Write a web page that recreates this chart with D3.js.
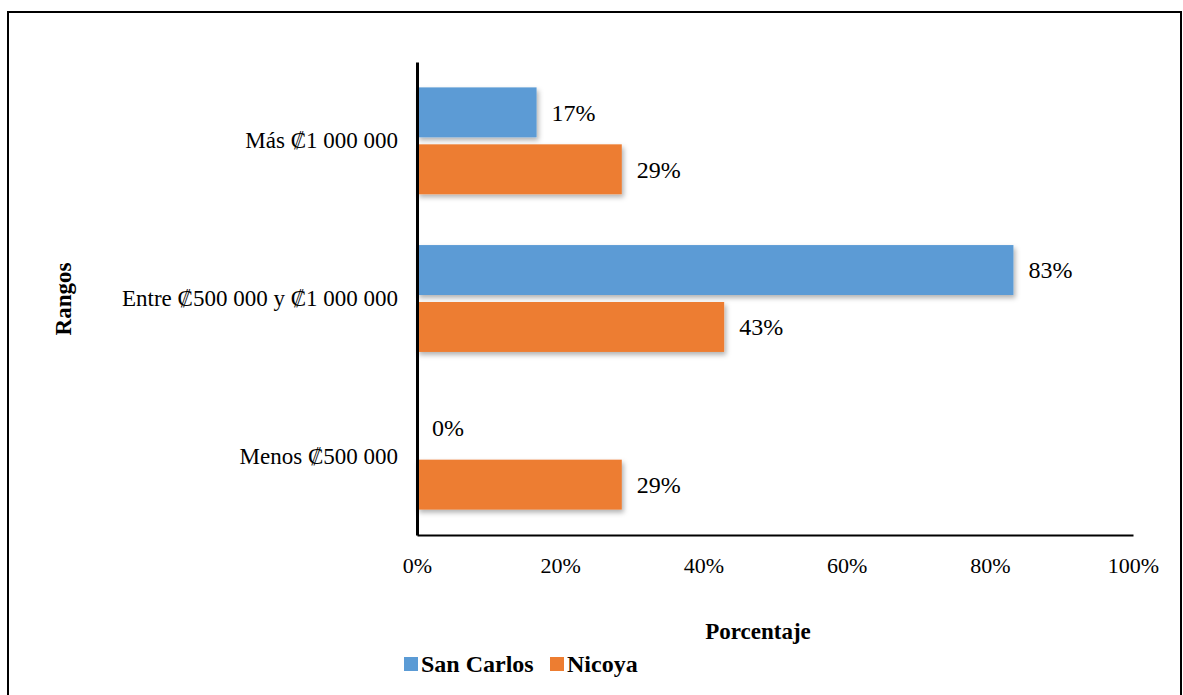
<!DOCTYPE html>
<html>
<head>
<meta charset="utf-8">
<script src="https://cdn.jsdelivr.net/npm/d3@7"></script>
<style>
  html, body { margin: 0; padding: 0; background: #fff; }
  svg { display: block; font-family: "Liberation Serif", "Times New Roman", serif; }
</style>
</head>
<body>
<div id="chart"></div>
<script>
// Chart data (percentages; labels are rounded)
const categories = ['Más ₡1 000 000', 'Entre ₡500 000 y ₡1 000 000', 'Menos ₡500 000'];
const seriesNames = ['San Carlos', 'Nicoya'];
const sanCarlos = [16.7, 83.3, 0];
const nicoya = [28.6, 42.9, 28.6];
const xTicks = [0, 20, 40, 60, 80, 100];
const colors = ['#5B9BD5', '#ED7D31'];

const W = 1183, H = 695;
const plot = { left: 417, right: 1133, top: 62, bottom: 535 };
const serif = '"Liberation Serif", "Times New Roman", serif';

const svg = d3.select('#chart')
    .append('svg')
    .attr('width', W)
    .attr('height', H);

// soft drop shadow for the bars
const defs = svg.append('defs');
defs.append('filter')
    .attr('id', 'shadow')
    .attr('x', '-5%').attr('y', '-20%')
    .attr('width', '115%').attr('height', '150%')
    .append('feDropShadow')
    .attr('dx', 2).attr('dy', 3)
    .attr('stdDeviation', 2.5)
    .attr('flood-color', '#000')
    .attr('flood-opacity', 0.3);

// outer frame
svg.append('rect')
    .attr('x', 8).attr('y', 12)
    .attr('width', 1173).attr('height', 700)
    .attr('fill', 'none')
    .attr('stroke', '#000')
    .attr('stroke-width', 2);

// Scales
const x = d3.scaleLinear()
    .domain([0, 100])
    .range([plot.left, plot.right]);

const y = d3.scaleBand()
    .domain(categories)
    .range([plot.top, plot.bottom]);

const ySub = d3.scaleBand()
    .domain(seriesNames)
    .range([0, y.bandwidth()])
    .paddingInner(0.123)
    .paddingOuter(0.446);

const rows = categories.map((c, i) => ({
    category: c,
    values: [sanCarlos[i], nicoya[i]]
}));

// Bars
const groups = svg.selectAll('g.cat')
    .data(rows)
    .enter()
    .append('g')
    .attr('class', 'cat')
    .attr('transform', d => `translate(0,${y(d.category)})`);

groups.selectAll('rect')
    .data(d => d.values.map((v, j) => ({ series: seriesNames[j], value: v, j })))
    .enter()
    .append('rect')
    .attr('x', x(0))
    .attr('y', d => ySub(d.series))
    .attr('width', d => x(d.value) - x(0))
    .attr('height', ySub.bandwidth())
    .attr('fill', d => colors[d.j])
    .attr('filter', d => d.value > 0 ? 'url(#shadow)' : null);

// Value labels
groups.selectAll('text.val')
    .data(d => d.values.map((v, j) => ({ series: seriesNames[j], value: v })))
    .enter()
    .append('text')
    .attr('class', 'val')
    .attr('x', d => x(d.value) + 15)
    .attr('y', d => ySub(d.series) + ySub.bandwidth() / 2)
    .attr('dy', '0.35em')
    .style('font-size', '24px')
    .text(d => d3.format('.0f')(d.value) + '%');

// Axes
const xAxis = svg.append('g')
    .attr('transform', `translate(0,${plot.bottom})`)
    .call(d3.axisBottom(x).tickValues(xTicks).tickSize(0).tickPadding(22).tickFormat(d => d + '%'));
xAxis.select('.domain').attr('stroke', '#000').attr('stroke-width', 2);
xAxis.selectAll('text')
    .attr('fill', '#000')
    .style('font-family', serif)
    .style('font-size', '22px');

const yAxis = svg.append('g')
    .attr('transform', `translate(${plot.left},0)`)
    .call(d3.axisLeft(y).tickSize(0).tickPadding(19));
yAxis.select('.domain').attr('stroke', '#000').attr('stroke-width', 3);
yAxis.selectAll('text')
    .attr('fill', '#000')
    .style('font-family', serif)
    .style('font-size', '23px');

// Axis titles
svg.append('text')
    .attr('transform', 'rotate(-90)')
    .attr('x', -299)
    .attr('y', 63)
    .attr('dy', '0.35em')
    .attr('text-anchor', 'middle')
    .style('font-size', '23px')
    .style('font-weight', 'bold')
    .text('Rangos');

svg.append('text')
    .attr('x', 758)
    .attr('y', 631)
    .attr('dy', '0.35em')
    .attr('text-anchor', 'middle')
    .style('font-size', '23px')
    .style('font-weight', 'bold')
    .text('Porcentaje');

// Legend
const legend = svg.append('g').attr('transform', 'translate(404,664)');
const legendX = [0, 146];
seriesNames.forEach((name, i) => {
    const item = legend.append('g').attr('transform', `translate(${legendX[i]},0)`);
    item.append('rect')
        .attr('x', 0).attr('y', -7)
        .attr('width', 14).attr('height', 14)
        .attr('fill', colors[i]);
    item.append('text')
        .attr('x', 17)
        .attr('y', 0)
        .attr('dy', '0.35em')
        .style('font-size', '24px')
        .style('font-weight', 'bold')
        .text(name);
});
</script>
</body>
</html>
